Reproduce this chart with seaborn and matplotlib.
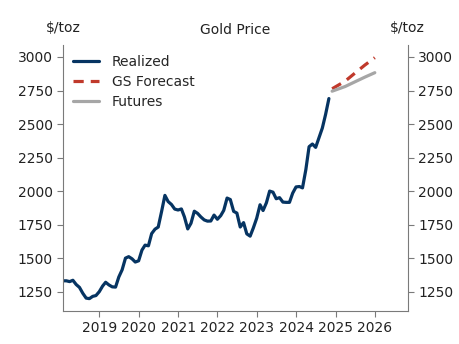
import matplotlib
matplotlib.use("Agg")
import matplotlib.pyplot as plt
import matplotlib.dates as mdates
import numpy as np
import pandas as pd
import seaborn as sns

# Realized monthly gold price ($/toz), Jan 2018 - Oct 2024 (month-end dates)
realized_start = "2018-01-31"
realized_values = [
    1331, 1331, 1325, 1335, 1303, 1282, 1238, 1202, 1198, 1215, 1221, 1250,
    1292, 1320, 1300, 1286, 1284, 1359, 1413, 1500, 1511, 1495, 1471, 1480,
    1560, 1597, 1592, 1683, 1716, 1732, 1847, 1968, 1922, 1900, 1866, 1859,
    1867, 1808, 1718, 1760, 1850, 1834, 1807, 1785, 1776, 1777, 1821, 1790,
    1817, 1856, 1948, 1937, 1849, 1836, 1732, 1765, 1681, 1664, 1726, 1798,
    1898, 1855, 1913, 2000, 1992, 1943, 1951, 1918, 1916, 1916, 1985, 2031,
    2034, 2024, 2160, 2331, 2351, 2326, 2398, 2470, 2571, 2690,
]
# Forecast paths
forecast_dates = ["2024-11-30", "2025-03-31", "2025-06-30", "2025-09-30", "2025-12-31"]
gs_forecast = [2763, 2820, 2880, 2940, 2995]
futures = [2745, 2780, 2815, 2850, 2883]
year_ticks = ["2019-01-01", "2020-01-01", "2021-01-01", "2022-01-01",
              "2023-01-01", "2024-01-01", "2025-01-01", "2026-01-01"]
price_ticks = [1250, 1500, 1750, 2000, 2250, 2500, 2750, 3000]

realized_dates = pd.date_range(realized_start, periods=len(realized_values), freq="ME")
df = pd.concat([
    pd.DataFrame({"date": realized_dates, "price": realized_values, "series": "Realized"}),
    pd.DataFrame({"date": pd.to_datetime(forecast_dates), "price": gs_forecast, "series": "GS Forecast"}),
    pd.DataFrame({"date": pd.to_datetime(forecast_dates), "price": futures, "series": "Futures"}),
], ignore_index=True)

sns.set_style("ticks")
plt.rcParams["font.family"] = ["DejaVu Sans"]

fig = plt.figure(figsize=(4.6, 3.44), dpi=100)
ax = fig.add_axes([0.1376, 0.096, 0.7484, 0.773])

palette = {"Realized": "#063462", "GS Forecast": "#c0392b", "Futures": "#a6a6a6"}
sns.lineplot(data=df, x="date", y="price", hue="series", style="series",
             palette=palette,
             dashes={"Realized": "", "GS Forecast": (3.2, 2.2), "Futures": ""},
             ax=ax, linewidth=2.3, legend=True)

ax.set_xlim(pd.Timestamp("2018-01-31"), pd.Timestamp("2026-10-31"))
ax.set_ylim(1106, 3089)
ax.set_yticks(price_ticks)
ax.set_xticks(pd.to_datetime(year_ticks))
ax.xaxis.set_major_formatter(mdates.DateFormatter("%Y"))
ax.set_xlabel("")
ax.set_ylabel("")

ax2 = ax.twinx()
ax2.set_ylim(ax.get_ylim())
ax2.set_yticks(price_ticks)

spine_color = "#7a7a7a"
for a in (ax, ax2):
    a.spines["top"].set_visible(False)
    a.tick_params(colors=spine_color, labelcolor="#222222", labelsize=10, length=4)
    for s in a.spines.values():
        s.set_color(spine_color)
ax.spines["right"].set_visible(False)
ax2.spines["left"].set_visible(False)
ax2.spines["bottom"].set_visible(False)

leg = ax.legend(loc="upper left", frameon=False, fontsize=10,
                handlelength=1.9, handletextpad=0.9, labelspacing=0.45,
                borderaxespad=0.3)
for h in leg.get_lines():
    h.set_linewidth(2.3)

ax.set_title("Gold Price", fontsize=10, pad=8, color="#222222")
ax.text(0.0, 1.037, "$/toz", transform=ax.transAxes, ha="center", va="bottom", fontsize=10, color="#222222")
ax.text(1.0, 1.037, "$/toz", transform=ax.transAxes, ha="center", va="bottom", fontsize=10, color="#222222")

fig.savefig("out.png", dpi=100)
